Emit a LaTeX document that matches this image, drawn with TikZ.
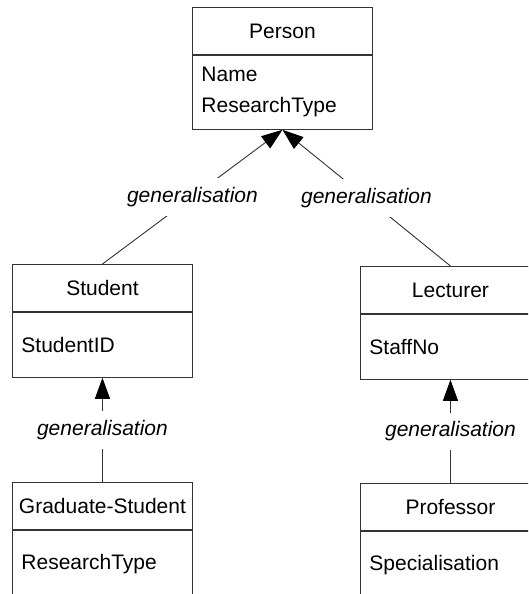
\documentclass[tikz,border=0pt]{standalone}
\usepackage{fontspec}
\setmainfont{Liberation Sans}
\usetikzlibrary{arrows.meta}
\definecolor{linec}{gray}{0.2}
\tikzset{
  classname/.style={draw=linec, line width=0.9pt, minimum width=180pt, minimum height=47pt, inner sep=0pt, anchor=north west, font=\fontsize{21}{31}\selectfont},
  classattr/.style={draw=linec, line width=0.9pt, minimum width=180pt, text width=162pt, inner xsep=9pt, inner ysep=0pt, align=left, anchor=north, font=\fontsize{21}{31}\selectfont},
  genarrow/.style={draw=linec, line width=0.9pt, -{Triangle[length=21pt,width=15pt,fill=black,color=black]}},
  genlabel/.style={fill=white, inner xsep=1pt, inner ysep=9pt, font=\fontsize{21}{25}\selectfont\itshape}
}
\begin{document}
\begin{tikzpicture}[x=1pt,y=-1pt]
\useasboundingbox (0,0) rectangle (528,594);
\clip (0,0) rectangle (528,594);
% Person
\node[classname] (person) at (192,7) {Person};
\node[classattr, minimum height=74pt] (personattr) at (person.south) {Name\\ResearchType};
% Student
\node[classname] (student) at (12,264) {Student};
\node[classattr, minimum height=65pt] (studentattr) at (student.south) {StudentID};
% Lecturer
\node[classname] (lecturer) at (360,266) {Lecturer};
\node[classattr, minimum height=65pt] (lecturerattr) at (lecturer.south) {StaffNo};
% Graduate-Student
\node[classname] (grad) at (12,482) {Graduate-Student};
\node[classattr, minimum height=68pt] (gradattr) at (grad.south) {ResearchType};
% Professor
\node[classname] (prof) at (360,483) {Professor};
\node[classattr, minimum height=68pt] (profattr) at (prof.south) {Specialisation};
% generalisations
\draw[genarrow] (student.north) -- node[genlabel] (g1) {generalisation} (personattr.south);
\draw[genarrow] (lecturer.north) -- node[genlabel] (g2) {generalisation} (personattr.south);
\draw[genarrow] (grad.north) -- node[genlabel] (g3) {generalisation} (studentattr.south);
\draw[genarrow] (prof.north) -- node[genlabel] (g4) {generalisation} (lecturerattr.south);
\end{tikzpicture}
\end{document}
